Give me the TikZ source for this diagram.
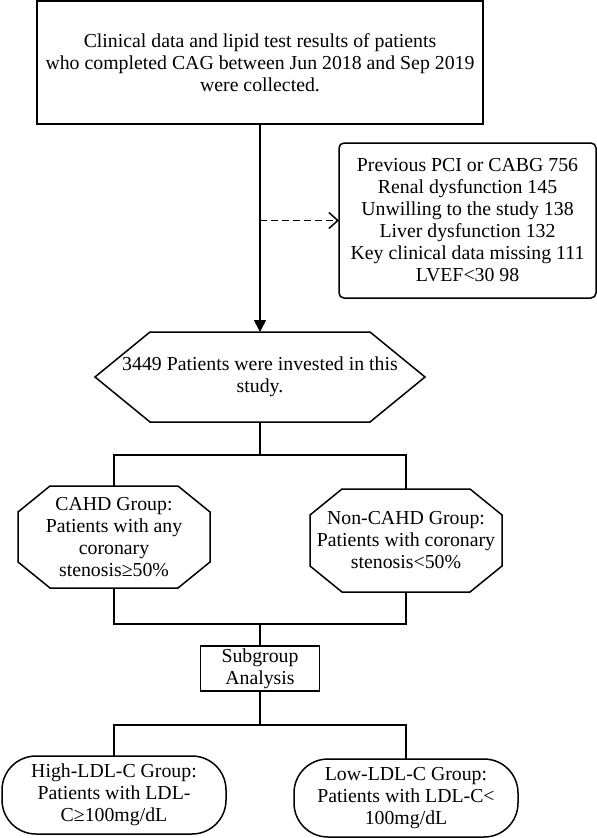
\documentclass[tikz,border=0pt]{standalone}
\usepackage{fontspec}
\setmainfont{Liberation Serif}
\usetikzlibrary{arrows.meta}

\begin{document}
\begin{tikzpicture}[
  x=1pt, y=1pt,
  every node/.style={inner sep=2pt, outer sep=0pt, align=center, font=\fontsize{19.8}{22}\selectfont},
  box/.style={draw, line width=1.5pt},
  rbox/.style={draw, line width=1.5pt, rounded corners=5pt},
  pill/.style={draw, line width=1.5pt, rounded corners=34pt},
  line/.style={line width=1.5pt},
  arr/.style={line width=1.5pt, -{Triangle[width=12pt,length=12pt]}},
  excl/.style={line width=1.5pt, dash pattern=on 7pt off 4pt, -{Straight Barb[width=16pt,length=9pt]}}
]
\useasboundingbox (0,0) rectangle (597,-838);

% Collection and exclusions
\node[box, minimum width=446pt, minimum height=123pt] (collect) at (260,-62.5)
  {Clinical data and lipid test results of patients\\ who completed CAG between Jun 2018 and Sep 2019\\ were collected.};
\node[rbox, minimum width=257pt, minimum height=155pt] (excluded) at (467.5,-220.5)
  {Previous PCI or CABG 756\\ Renal dysfunction 145\\ Unwilling to the study 138\\ Liver dysfunction 132\\ Key clinical data missing 111\\ LVEF<30 98};

% Study population (hexagon drawn on the node below)
\node[minimum width=330pt, minimum height=90pt] (cohort) at (260,-377)
  {3449 Patients were invested in this\\ study.};
\draw[line] (cohort.west) -- ([xshift=55pt]cohort.north west) -- ([xshift=-55pt]cohort.north east)
  -- (cohort.east) -- ([xshift=-55pt]cohort.south east) -- ([xshift=55pt]cohort.south west) -- cycle;

% Groups (octagons drawn on the nodes below)
\node[minimum width=192pt, minimum height=102pt] (cahd) at (114,-537)
  {CAHD Group:\\ Patients with any\\ coronary\\ stenosis≥50\%};
\node[minimum width=192pt, minimum height=103pt] (noncahd) at (406,-540.5)
  {Non-CAHD Group:\\ Patients with coronary\\ stenosis<50\%};
\foreach \g in {cahd,noncahd}
  \draw[line] ([xshift=32pt]\g.north west) -- ([xshift=-32pt]\g.north east) -- ([yshift=-26pt]\g.north east)
    -- ([yshift=26pt]\g.south east) -- ([xshift=-32pt]\g.south east) -- ([xshift=32pt]\g.south west)
    -- ([yshift=26pt]\g.south west) -- ([yshift=-26pt]\g.north west) -- cycle;

% Subgroups
\node[box, minimum width=119pt, minimum height=45pt] (subgroup) at (260,-668.5) {Subgroup\\ Analysis};
\node[pill, minimum width=224pt, minimum height=78pt] (highldl) at (114,-795)
  {High-LDL-C Group:\\ Patients with LDL-\\ C≥100mg/dL};
\node[pill, minimum width=224pt, minimum height=78pt] (lowldl) at (406,-798)
  {Low-LDL-C Group:\\ Patients with LDL-C<\\ 100mg/dL};

% Connectors
\coordinate (branch) at (collect.south |- excluded.west);
\draw[arr] (collect.south) -- (cohort.north);
\draw[excl] (branch) -- (excluded.west);

\coordinate (fork1) at ([yshift=-33pt]cohort.south);
\draw[line] (cohort.south) -- (fork1);
\draw[line] (fork1) -| (cahd.north);
\draw[line] (fork1) -| (noncahd.north);

\coordinate (join1) at ([yshift=22pt]subgroup.north);
\draw[line] (cahd.south) |- (join1) -| (noncahd.south);
\draw[line] (join1) -- (subgroup.north);

\coordinate (fork2) at ([yshift=-34pt]subgroup.south);
\draw[line] (subgroup.south) -- (fork2);
\draw[line] (fork2) -| (highldl.north);
\draw[line] (fork2) -| (lowldl.north);

\end{tikzpicture}
\end{document}
